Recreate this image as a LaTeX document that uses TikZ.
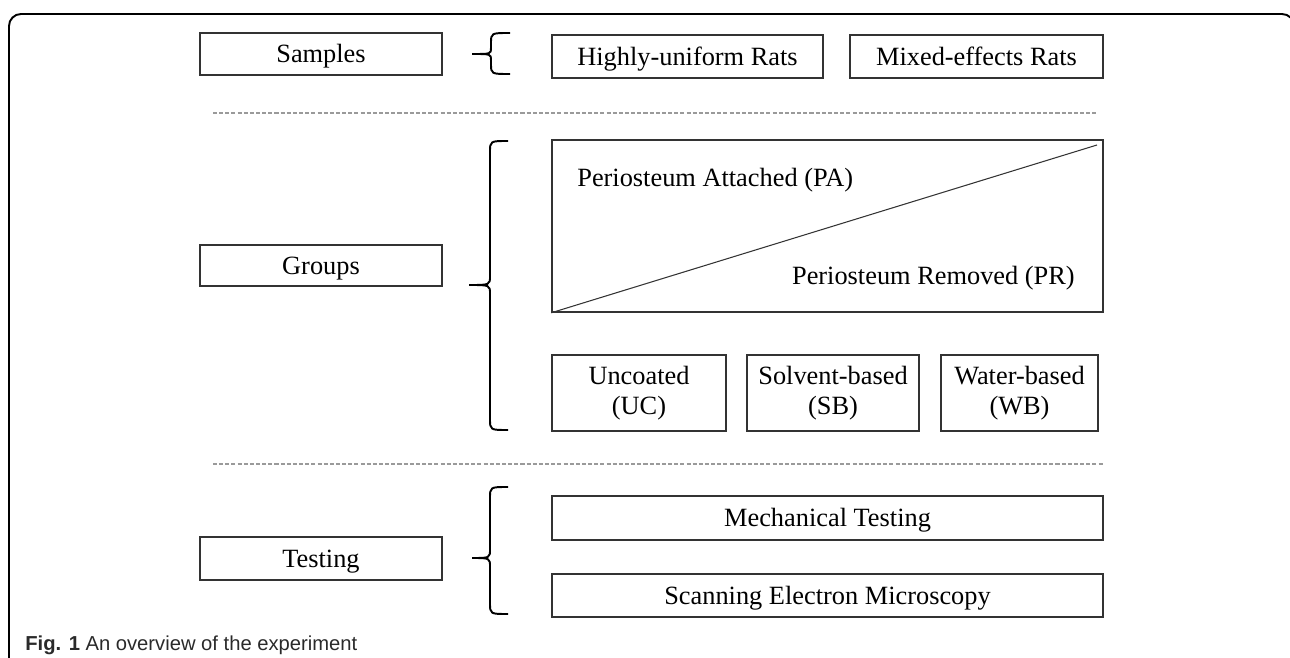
\documentclass[tikz,border=0pt]{standalone}
\usepackage{fontspec}
\setmainfont{Liberation Serif}
\newfontfamily\capfont{Liberation Sans}
\usepackage{tikz}
\usetikzlibrary{positioning}
\definecolor{ovline}{HTML}{333333}
\definecolor{ovdash}{HTML}{9A9A9A}
\definecolor{ovcap}{HTML}{2A2A2A}

\begin{document}
\begin{tikzpicture}[x=0.02cm, y=-0.02cm,
  font=\fontsize{15}{17}\selectfont,
  box/.style={draw=ovline, line width=0.9pt, inner sep=0pt, align=center},
  onebox/.style={box, text height=12pt, text depth=1.8pt},
  sep/.style={draw=ovdash, line width=0.8pt, dash pattern=on 2.3pt off 1.2pt},
  brace/.style={draw=black, line width=1.1pt}
]
\path[use as bounding box] (0,0) rectangle (1290,658);
\clip (0,0) rectangle (1290,658);
% ---------- frame ----------
\draw[line width=1.1pt, rounded corners=0.24cm] (9,14) rectangle (1294,720);
% ================= samples =================
\node[onebox, minimum width=4.84cm, minimum height=0.84cm] (samples) at (321,54) {Samples};
\node[onebox, minimum width=5.42cm, minimum height=0.86cm] (uniform) at (687.5,56.5) {Highly-uniform Rats};
\node[onebox, minimum width=5.06cm, minimum height=0.86cm] (mixed) at (976.5,56.5) {Mixed-effects Rats};
\draw[brace] (510,33) .. controls (491,33) .. (491,43) -- (491,48) .. controls (491,54) .. (472,54)
  .. controls (491,54) .. (491,60) -- (491,64) .. controls (491,74) .. (510,74);
\draw[sep] (213,113) -- (1097,113);
% ================= groups =================
\node[onebox, minimum width=4.84cm, minimum height=0.82cm] (groups) at (321,265.5) {Groups};
\node[box, minimum width=11.02cm, minimum height=3.44cm] (site) at (827.5,226) {};
\draw[line width=0.6pt, draw=ovline] (site.south west) -- (1097,145);
\node[anchor=base west, inner sep=0pt] (pa) at (577,187) {Periosteum Attached (PA)};
\node[anchor=base east, inner sep=0pt] (pr) at (1075,285) {Periosteum Removed (PR)};
\node[box, minimum width=3.48cm, minimum height=1.52cm] (uc) at (639,393) {Uncoated\\(UC)};
\node[box, minimum width=3.44cm, minimum height=1.52cm] (sb) at (833,393) {Solvent-based\\(SB)};
\node[box, minimum width=3.14cm, minimum height=1.52cm] (wb) at (1019.5,393) {Water-based\\(WB)};
\draw[brace] (508,141) .. controls (490,141) .. (490,152) -- (490,276) .. controls (490,285) .. (469,285)
  .. controls (490,285) .. (490,294) -- (490,419) .. controls (490,430) .. (508,430);
\draw[sep] (213,464) -- (1103,464);
% ================= testing =================
\node[onebox, minimum width=4.84cm, minimum height=0.86cm] (testing) at (321,558.5) {Testing};
\node[onebox, minimum width=11.02cm, minimum height=0.88cm] (mech) at (827.5,518) {Mechanical Testing};
\node[onebox, minimum width=11.02cm, minimum height=0.86cm] (sem) at (827.5,595.5) {Scanning Electron Microscopy};
\draw[brace] (508,487) .. controls (490,487) .. (490,498) -- (490,549) .. controls (490,558) .. (472,558)
  .. controls (490,558) .. (490,567) -- (490,603) .. controls (490,614) .. (508,614);
% ---------- caption ----------
\node[anchor=base west, inner sep=0pt, text=ovcap, font=\capfont\fontsize{11.5}{14}\selectfont] (caption) at (25,650) {\textbf{Fig. 1} An overview of the experiment};
\end{tikzpicture}
\end{document}
